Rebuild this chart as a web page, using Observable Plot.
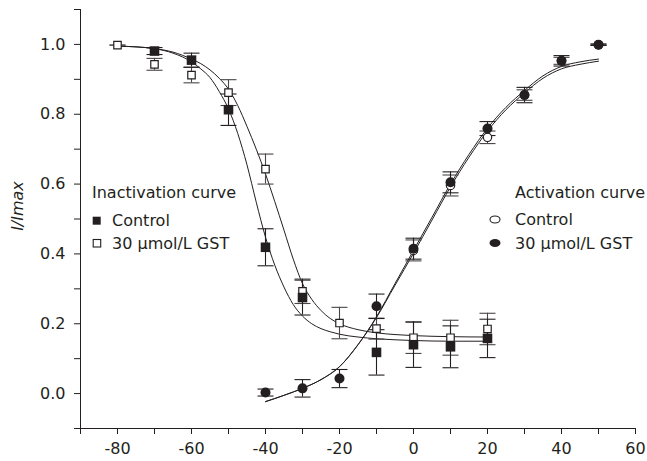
<!DOCTYPE html>
<html>
<head>
<meta charset="utf-8">
<script src="https://cdn.jsdelivr.net/npm/d3@7"></script>
<script src="https://cdn.jsdelivr.net/npm/@observablehq/plot@0.6"></script>
<style>
  html, body { margin: 0; padding: 0; background: #fff; }
  #chart svg { display: block; }
</style>
</head>
<body>
<div id="chart"></div>
<script>
// ---------- data ----------
// Inactivation (squares)
const inactX      = [-80, -70, -60, -50, -40, -30, -20, -10, 0, 10, 20];
const inactCtrl   = [null, 0.981, 0.955, 0.813, 0.419, 0.275, null, 0.118, 0.140, 0.134, 0.158];
const inactCtrlEr = [null, 0.010, 0.020, 0.045, 0.053, 0.050, null, 0.065, 0.065, 0.060, 0.055];
const inactGst    = [0.998, 0.943, 0.912, 0.862, 0.643, 0.293, 0.202, 0.186, 0.160, 0.160, 0.185];
const inactGstEr  = [0, 0.017, 0.022, 0.037, 0.043, 0.035, 0.045, 0.030, 0.045, 0.050, 0.045];

// Activation (circles)
const actX      = [-40, -30, -20, -10, 0, 10, 20, 30, 40, 50];
const actCtrl   = [null, null, null, null, 0.410, 0.596, 0.734, 0.855, 0.953, 0.999];
const actCtrlEr = [null, null, null, null, 0.030, 0.030, 0.018, 0.015, 0.010, 0.002];
const actGst    = [0.003, 0.015, 0.043, 0.250, 0.415, 0.605, 0.759, 0.855, 0.953, 0.999];
const actGstEr  = [0.010, 0.025, 0.026, 0.035, 0.030, 0.030, 0.020, 0.022, 0.015, 0.002];

// Fitted curves
const inactCurveX   = [-80, -75, -70, -65, -60, -57.5, -55, -52.5, -50, -47.5, -45, -42.5, -40, -37.5, -35, -32.5, -30, -27.5, -25, -22.5, -20, -15, -10, -5, 0, 10, 20];
const inactCtrlFit  = [0.995, 0.993, 0.988, 0.975, 0.950, 0.930, 0.905, 0.865, 0.815, 0.745, 0.655, 0.548, 0.448, 0.368, 0.305, 0.255, 0.222, 0.200, 0.186, 0.177, 0.170, 0.162, 0.157, 0.154, 0.152, 0.150, 0.150];
const inactGstFit   = [0.995, 0.993, 0.988, 0.978, 0.958, 0.945, 0.927, 0.903, 0.872, 0.825, 0.765, 0.700, 0.629, 0.550, 0.468, 0.385, 0.315, 0.270, 0.238, 0.215, 0.200, 0.183, 0.174, 0.169, 0.166, 0.163, 0.162];
const actCurveX     = [-40, -35, -30, -25, -20, -15, -10, -5, 0, 5, 10, 15, 20, 25, 30, 35, 40, 45, 50];
const actGstFit     = [-0.023, -0.005, 0.015, 0.040, 0.077, 0.140, 0.220, 0.315, 0.410, 0.505, 0.600, 0.685, 0.760, 0.820, 0.868, 0.910, 0.937, 0.950, 0.958];
const actCtrlFit    = [-0.023, -0.005, 0.015, 0.040, 0.077, 0.140, 0.218, 0.310, 0.402, 0.497, 0.592, 0.677, 0.752, 0.813, 0.861, 0.903, 0.930, 0.943, 0.952];

// Axis ticks
const xTicks = [-90, -80, -70, -60, -50, -40, -30, -20, -10, 0, 10, 20, 30, 40, 50, 60];
const yTicks = [-0.1, 0, 0.1, 0.2, 0.3, 0.4, 0.5, 0.6, 0.7, 0.8, 0.9, 1.0, 1.1];
const xLabelled = [-80, -60, -40, -20, 0, 20, 40, 60];
const yLabelled = [0, 0.2, 0.4, 0.6, 0.8, 1.0];

// ---------- tables ----------
const pts = (xs, ys, es) => xs.map((x, i) => ({x, y: ys[i], e: es[i]})).filter(d => d.y != null);
const curve = (xs, ys) => xs.map((x, i) => ({x, y: ys[i]}));

const sqCtrl = pts(inactX, inactCtrl, inactCtrlEr);
const sqGst  = pts(inactX, inactGst, inactGstEr);
const ciCtrl = pts(actX, actCtrl, actCtrlEr);
const ciGst  = pts(actX, actGst, actGstEr);

const fg = "#231f20";
const capSymbol = { draw(ctx) { ctx.moveTo(-8, 0); ctx.lineTo(8, 0); } };

const bars = (data, color) => [
  Plot.ruleX(data.filter(d => d.e > 0), {x: "x", y1: d => d.y - d.e, y2: d => d.y + d.e, stroke: color, strokeWidth: 1.1}),
  Plot.dot(data, {x: "x", y: d => d.y + d.e, symbol: capSymbol, fill: "none", stroke: color, strokeWidth: 1.1}),
  Plot.dot(data, {x: "x", y: d => d.y - d.e, symbol: capSymbol, fill: "none", stroke: color, strokeWidth: 1.1})
];

const chart = Plot.plot({
  width: 647,
  height: 461,
  marginLeft: 80,
  marginRight: 12,
  marginTop: 9,
  marginBottom: 33,
  x: {domain: [-90, 60]},
  y: {domain: [-0.1, 1.1]},
  style: {fontFamily: "'DejaVu Sans', Verdana, sans-serif", fontSize: "16px", color: fg, background: "#fff"},
  marks: [
    Plot.axisX({ticks: xTicks, tickFormat: d => xLabelled.includes(d) ? String(d) : "", tickSize: 6, tickPadding: 8, label: null, fontSize: 16}),
    Plot.axisY({ticks: yTicks, tickFormat: d => yLabelled.some(v => Math.abs(v - d) < 1e-9) ? d.toFixed(1) : "", tickSize: 6, tickPadding: 9, label: null, fontSize: 16}),
    Plot.ruleX([-90], {stroke: fg}),
    Plot.ruleY([-0.1], {stroke: fg}),
    // fitted curves
    Plot.line(curve(inactCurveX, inactCtrlFit), {x: "x", y: "y", curve: "monotone-x", stroke: fg, strokeWidth: 1}),
    Plot.line(curve(inactCurveX, inactGstFit), {x: "x", y: "y", curve: "monotone-x", stroke: fg, strokeWidth: 1}),
    Plot.line(curve(actCurveX, actCtrlFit), {x: "x", y: "y", curve: "monotone-x", stroke: fg, strokeWidth: 1}),
    Plot.line(curve(actCurveX, actGstFit), {x: "x", y: "y", curve: "monotone-x", stroke: fg, strokeWidth: 1}),
    // error bars
    ...bars(sqGst, "#4a4646"),
    ...bars(sqCtrl, fg),
    ...bars(ciCtrl, "#4a4646"),
    ...bars(ciGst, fg),
    // markers
    Plot.dot(sqGst, {x: "x", y: "y", symbol: "square", r: 4.2, fill: "#fff", stroke: fg, strokeWidth: 1.2}),
    Plot.dot(sqCtrl, {x: "x", y: "y", symbol: "square", r: 5.4, fill: fg, stroke: "none"}),
    Plot.dot(ciCtrl, {x: "x", y: "y", symbol: "circle", r: 4.2, fill: "#fff", stroke: fg, strokeWidth: 1.2}),
    Plot.dot(ciGst, {x: "x", y: "y", symbol: "circle", r: 5, fill: fg, stroke: "none"})
  ]
});

document.getElementById("chart").appendChild(chart);

// ---------- legends and y label ----------
const svg = d3.select(chart);
const g = svg.append("g")
  .attr("fill", fg)
  .attr("text-anchor", "start")
  .style("font-family", "'DejaVu Sans', Verdana, sans-serif")
  .style("font-size", "16px");

g.append("text").attr("transform", "translate(17,206) rotate(-90)").attr("text-anchor", "middle").attr("dy", "0.35em").style("font-style", "italic").text("I/Imax");

const t = (x, y, s) => g.append("text").attr("x", x).attr("y", y).attr("dy", "0.35em").attr("text-anchor", "start").text(s);

t(92, 192, "Inactivation curve");
g.append("rect").attr("x", 92.7).attr("y", 216.7).attr("width", 8).attr("height", 8).attr("fill", fg);
t(112, 220, "Control");
g.append("rect").attr("x", 93.2).attr("y", 239.5).attr("width", 7.5).attr("height", 7.5).attr("fill", "#fff").attr("stroke", fg).attr("stroke-width", 1.1);
t(112, 243, "30 \u03bcmol/L GST");

t(515, 192, "Activation curve");
g.append("ellipse").attr("cx", 495).attr("cy", 219.5).attr("rx", 5).attr("ry", 3.5).attr("fill", "#fff").attr("stroke", fg).attr("stroke-width", 1.1);
t(515, 219, "Control");
g.append("ellipse").attr("cx", 495).attr("cy", 243).attr("rx", 5.5).attr("ry", 4).attr("fill", fg);
t(515, 243, "30 \u03bcmol/L GST");
</script>
</body>
</html>
